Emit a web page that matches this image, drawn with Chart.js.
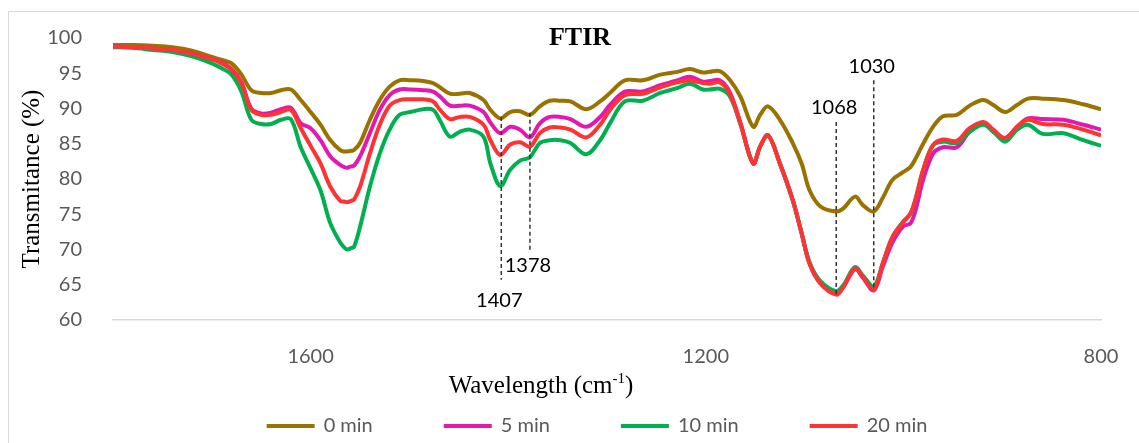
<!DOCTYPE html>
<html><head><meta charset="utf-8">
<script src="https://cdn.jsdelivr.net/npm/chart.js@4.4.1/dist/chart.umd.min.js"></script>
<style>
html,body{margin:0;padding:0;background:#fff;overflow:hidden;}
#wrap{position:relative;width:1139px;height:443px;overflow:hidden;}
#frame{position:absolute;left:8px;top:11px;width:1200px;height:500px;border-left:1px solid #d9d9d9;border-top:1px solid #d9d9d9;}
canvas{position:absolute;left:0;top:0;}
</style></head>
<body><div id="wrap"><div id="frame"></div><canvas id="c" width="1139" height="443"></canvas></div>
<script>
const wavenumbers = [1800,1780,1760,1740,1720,1700,1690,1680,1670,1660,1650,1640,1630,1620,1610,1600,1590,1580,1570,1566,1563,1559,1556,1550,1540,1530,1520,1510,1499,1486,1476,1469,1459,1449,1439,1425,1418,1408,1398,1388,1378,1368,1358,1347,1337,1321,1307,1297,1282,1264,1246,1229,1216,1203,1196,1186,1176,1165,1152,1145,1137,1125,1112,1103,1095,1084,1068,1061,1049,1041,1030,1021,1011,1000,993,988,980,970,960,946,933,919,909,897,885,874,859,838,818,800];
const min0 = [99.0,99.0,98.9,98.7,98.2,97.3,96.9,96.4,94.8,92.6,92.2,92.2,92.6,92.7,91.2,89.5,87.7,85.5,84.1,83.9,83.9,84.0,84.1,85.1,88.4,91.2,93.1,94.0,94.0,93.9,93.6,93.0,92.1,92.1,92.2,91.2,89.8,88.6,89.5,89.6,89.1,90.3,91.1,91.1,91.0,89.9,91.0,92.2,94.0,94.0,94.8,95.2,95.6,95.1,95.2,95.3,94.1,91.7,87.4,89.1,90.3,88.4,85.1,82.2,78.4,76.1,75.4,75.8,77.5,76.3,75.4,77.3,79.9,81.0,81.7,82.8,85.0,87.4,88.9,89.1,90.4,91.2,90.5,89.5,90.5,91.4,91.4,91.2,90.6,89.9];
const min5 = [98.8,98.7,98.5,98.3,97.8,97.0,96.5,95.6,93.7,90.0,89.3,89.4,89.9,90.1,87.9,87.2,85.5,83.2,82.0,81.7,81.6,81.8,81.9,83.2,86.5,89.8,91.9,92.7,92.7,92.6,92.4,91.7,90.4,90.4,90.4,89.5,88.0,86.5,87.4,87.0,85.9,87.9,88.8,88.8,88.5,87.4,88.8,90.5,92.4,92.4,93.3,94.0,94.5,93.8,93.9,94.0,92.4,88.0,82.2,84.6,86.2,82.2,77.0,72.3,68.0,65.2,63.8,64.7,67.2,66.0,64.2,67.5,71.0,73.3,73.7,75.4,79.9,83.6,84.5,84.5,86.7,87.9,86.7,85.8,87.4,88.6,88.5,88.4,87.7,87.0];
const min10 = [98.7,98.6,98.3,98.0,97.4,96.4,95.7,94.8,92.4,88.4,87.8,87.8,88.4,88.5,84.5,81.5,78.4,73.7,71.0,70.3,70.0,70.2,70.4,73.2,78.9,83.6,87.0,89.1,89.5,89.9,89.8,88.3,86.0,86.7,87.0,86.0,82.2,79.0,81.3,82.6,83.1,85.1,85.5,85.5,85.1,83.5,85.5,87.9,91.0,91.1,92.2,92.9,93.5,92.7,92.7,92.8,91.8,87.8,82.2,84.6,86.2,82.2,77.0,72.3,68.2,65.5,64.1,64.9,67.5,66.3,64.8,68.0,71.8,74.0,75.0,77.0,81.3,84.8,85.3,85.1,86.7,87.7,86.7,85.3,87.0,87.7,86.4,86.5,85.5,84.7];
const min20 = [98.8,98.7,98.5,98.3,97.8,97.0,96.4,95.5,93.6,89.8,89.1,89.1,89.5,89.8,87.2,84.7,82.2,78.9,76.9,76.8,76.7,76.9,77.1,78.9,83.6,87.7,90.4,91.2,91.3,91.3,91.0,89.8,88.5,88.8,88.8,87.7,85.5,83.4,84.9,85.2,84.6,86.5,87.3,87.3,87.0,85.9,87.7,89.8,91.9,92.1,93.0,93.7,94.0,93.6,93.5,93.7,92.2,87.9,82.2,84.6,86.2,82.2,77.0,72.3,68.0,65.2,63.6,64.6,67.3,66.1,64.3,68.0,71.8,73.9,75.1,77.0,81.3,84.8,85.6,85.4,87.2,88.1,87.0,85.8,87.4,88.4,87.8,87.7,87.0,86.2];
const seriesLabels = ['0 min','5 min','10 min','20 min'];
const seriesColors = ['#9a7200','#e318b0','#00b050','#ff3333'];
const xTicks = [1600,1200,800];
const yTicks = [60,65,70,75,80,85,90,95,100];
const markerWavenumbers = [1407,1378,1068,1030];
const markerTops = [88.8,89.4,88.1,94.0];
const markerBottoms = [65.7,69.9,63.5,64.3];
const markerLabelValues = [62.8,67.7,90.1,95.9];

const allSeries = [min0,min5,min10,min20];
const datasets = allSeries.map((s,i)=>({
  label: seriesLabels[i],
  data: wavenumbers.map((w,j)=>({x:w,y:s[j]})),
  borderColor: seriesColors[i],
  backgroundColor: seriesColors[i],
  borderWidth: 4,
  pointRadius: 0,
  tension: 0.35,
  fill: false,
  order: 3 - i
}));

const SANS = 'Lato, "Open Sans", sans-serif';
const SERIF = '"Liberation Serif", "DejaVu Serif", serif';

const extras = {
  id: 'extras',
  afterDraw(chart) {
    const ctx = chart.ctx;
    const xs = chart.scales.x, ys = chart.scales.y;
    ctx.save();
    ctx.strokeStyle = '#333';
    ctx.lineWidth = 1.5;
    ctx.setLineDash([4,3]);
    markerWavenumbers.forEach((w,i)=>{
      const px = xs.getPixelForValue(w);
      ctx.beginPath();
      ctx.moveTo(px, ys.getPixelForValue(markerTops[i]));
      ctx.lineTo(px, ys.getPixelForValue(markerBottoms[i]));
      ctx.stroke();
    });
    ctx.setLineDash([]);
    ctx.fillStyle = '#000';
    ctx.font = '20px ' + SANS;
    ctx.textAlign = 'center';
    ctx.textBaseline = 'middle';
    markerWavenumbers.forEach((w,i)=>{
      ctx.fillText(String(w), xs.getPixelForValue(w) - 2, ys.getPixelForValue(markerLabelValues[i]));
    });
    ctx.font = 'bold 26px ' + SERIF;
    ctx.fillText('FTIR', 580, 38);
    ctx.font = '25px ' + SERIF;
    const t1 = 'Wavelength (cm', t2 = '-1', t3 = ')';
    const w1 = ctx.measureText(t1).width;
    ctx.font = '15px ' + SERIF;
    const w2 = ctx.measureText(t2).width;
    ctx.font = '25px ' + SERIF;
    const w3 = ctx.measureText(t3).width;
    const total = w1 + w2 + w3;
    let sx = 541 - total/2;
    const ty = 386;
    ctx.textAlign = 'left';
    ctx.fillText(t1, sx, ty);
    ctx.font = '15px ' + SERIF;
    ctx.fillText(t2, sx + w1, ty - 7);
    ctx.font = '25px ' + SERIF;
    ctx.fillText(t3, sx + w1 + w2, ty);
    ctx.font = '20px ' + SANS;
    const lineLen = 48, gapText = 9, gapItem = 71;
    const widths = chart.data.datasets.map(d => lineLen + gapText + ctx.measureText(d.label).width);
    const tw = widths.reduce((a,b)=>a+b,0) + gapItem*(widths.length-1);
    let lx = 597 - tw/2;
    const ly = 426;
    chart.data.datasets.forEach((d,i)=>{
      ctx.strokeStyle = d.borderColor;
      ctx.lineWidth = 4;
      ctx.beginPath();
      ctx.moveTo(lx, ly);
      ctx.lineTo(lx + lineLen, ly);
      ctx.stroke();
      ctx.fillStyle = '#595959';
      ctx.fillText(d.label, lx + lineLen + gapText, ly);
      lx += widths[i] + gapItem;
    });
    ctx.restore();
  }
};

new Chart(document.getElementById('c'), {
  type: 'line',
  data: { datasets },
  options: {
    responsive: false,
    animation: false,
    devicePixelRatio: 1,
    layout: { padding: { left: 0, top: 38, right: 38, bottom: 0 } },
    plugins: { legend: { display: false }, tooltip: { enabled: false }, title: { display: false } },
    scales: {
      x: {
        type: 'linear', reverse: true, min: 800, max: 1800,
        afterBuildTicks: s => { s.ticks = xTicks.map(v => ({ value: v })); },
        afterFit: s => { s.height = 123; },
        ticks: { color: '#595959', font: { family: SANS, size: 20 }, padding: 17, maxRotation: 0, autoSkip: false, callback: v => String(v) },
        grid: { display: false },
        border: { display: true, color: '#d9d9d9', width: 1.5 }
      },
      y: {
        min: 60, max: 100,
        afterBuildTicks: s => { s.ticks = yTicks.map(v => ({ value: v })); },
        afterFit: s => { s.width = 113; },
        ticks: { color: '#595959', font: { family: SANS, size: 20 }, padding: 23, callback: v => String(v) },
        grid: { display: false },
        border: { display: false },
        title: { display: true, text: 'Transmitance (%)', color: '#000', font: { family: SERIF, size: 25 }, padding: { top: 17, bottom: 0 } }
      }
    }
  },
  plugins: [extras]
});
</script>
</body></html>
